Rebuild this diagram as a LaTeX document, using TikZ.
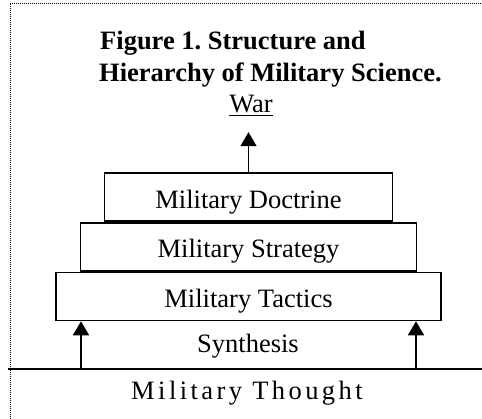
\documentclass[tikz,border=0pt]{standalone}
\usepackage{fontspec}
\setmainfont{Liberation Serif}
\newfontfamily\spacedfont[LetterSpace=13]{Liberation Serif}
\usepackage{tikz}
\usetikzlibrary{positioning,arrows.meta}
\frenchspacing

\begin{document}
\begin{tikzpicture}[x=1pt,y=-1pt,
    level/.style={draw,line width=1.6pt,inner sep=0pt,text height=35pt,text depth=13pt},
    up/.style={line width=1.8pt,-{Triangle[width=16pt,length=14pt]}},
    heading/.style={anchor=base west,inner sep=0pt,font=\fontsize{26.5}{32}\selectfont\bfseries},
    every node/.style={font=\fontsize{26.5}{32}\selectfont}]
    \useasboundingbox (0,0) rectangle (482,419);
    \draw[line width=0.8pt,dash pattern=on 0.8pt off 1.2pt] (10,419) -- (10,3) -- (482,3);
    \node[heading] (title1) at (100,50) {Figure 1. Structure and};
    \node[heading] (title2) at (99,82) {Hierarchy of Military Science.};
    \node[anchor=base,inner sep=0pt,text depth=19pt] (war) at (251,113) {\underline{War}};
    \node[level,minimum width=385pt] (tactics) at (248.5,296.5) {Military Tactics};
    \node[level,minimum width=336pt,above=0pt of tactics] (strategy) {Military Strategy};
    \node[level,minimum width=288pt,above=0pt of strategy] (doctrine) {Military Doctrine};
    \draw[up] (doctrine.north) -- (doctrine.north |- war.south);
    \coordinate (gl) at (8,369);
    \coordinate (gr) at (482,369);
    \draw[line width=1.8pt] (gl) -- (gr);
    \coordinate (lfoot) at (81,369);
    \coordinate (rfoot) at (416,369);
    \draw[up] (lfoot) -- (lfoot |- tactics.south);
    \draw[up] (rfoot) -- (rfoot |- tactics.south);
    \node[anchor=base] (synth) at (248,353) {Synthesis};
    \node[anchor=base,font=\fontsize{26.5}{32}\spacedfont] (thought) at (247,400) {Military Thought};
\end{tikzpicture}
\end{document}
